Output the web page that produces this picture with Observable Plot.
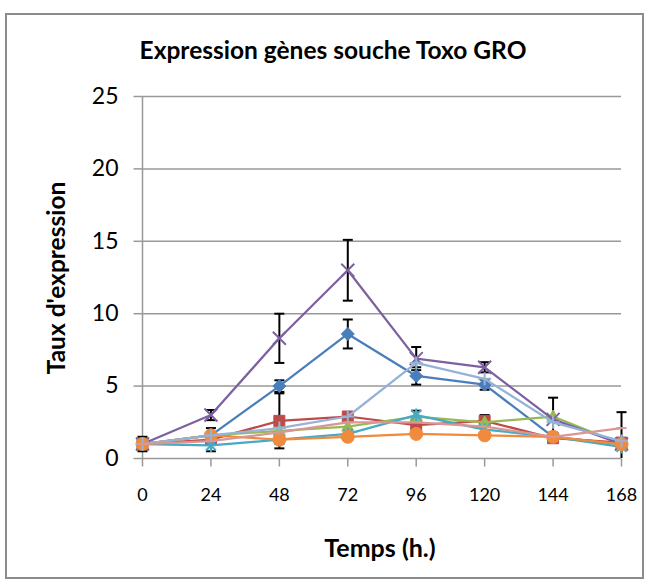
<!DOCTYPE html>
<html><head><meta charset="utf-8">
<script src="https://cdn.jsdelivr.net/npm/d3@7"></script>
<script src="https://cdn.jsdelivr.net/npm/@observablehq/plot@0.6"></script>
<style>
body{margin:0;background:#fff;font-family:Lato,sans-serif}
#wrap{position:relative;width:648px;height:585px;overflow:hidden;background:#fff}
#frame{position:absolute;left:5px;top:13px;width:639px;height:566px;border:2px solid #8c8c8c;box-sizing:border-box;pointer-events:none}
#chart{position:absolute;left:0;top:0}
.lbl{position:absolute;font-weight:bold;white-space:nowrap;color:#000}
#title{left:0;width:666px;top:35px;text-align:center;font-size:24.5px}
#ylab{left:55px;top:278px;font-size:24.5px;transform:translate(-50%,-50%) rotate(-90deg)}
#xlab{left:380px;top:547px;font-size:25px;transform:translate(-50%,-50%)}
</style></head>
<body>
<div id="wrap">
  <div id="chart"></div>
  <div id="frame"></div>
  <div id="title" class="lbl">Expression gènes souche Toxo GRO</div>
  <div id="ylab" class="lbl">Taux d'expression</div>
  <div id="xlab" class="lbl">Temps (h.)</div>
</div>
<script>
const hours = [0, 24, 48, 72, 96, 120, 144, 168];
const yTicks = [0, 5, 10, 15, 20, 25];
const seriesNames = ["Série 1", "Série 2", "Série 3", "Série 4", "Série 5", "Série 6", "Série 7", "Série 8"];

const s1 = [1.0, 1.6, 5.0, 8.6, 5.7, 5.1, 1.5, 1.0];
const s2 = [1.0, 1.3, 2.6, 2.9, 2.3, 2.6, 1.4, 1.1];
const s3 = [1.0, 1.6, 1.9, 2.2, 2.9, 2.5, 2.9, 1.0];
const s4 = [1.0, 3.0, 8.3, 13.0, 6.9, 6.3, 2.7, 1.0];
const s5 = [1.0, 0.9, 1.3, 1.7, 3.0, 2.0, 1.5, 0.8];
const s6 = [1.0, 1.6, 1.3, 1.5, 1.7, 1.6, 1.5, 1.0];
const s7 = [1.0, 1.6, 2.1, 2.9, 6.6, 5.5, 2.5, 1.2];
const s8 = [1.0, 1.2, 1.8, 2.5, 2.5, 2.2, 1.5, 2.1];

const e1 = [0.5, 0, 0.4, 1.0, 0.6, 0.35, 0, 0];
const e2 = [0, 0.8, 1.9, 0, 0, 0.4, 0, 0];
const e3 = [0, 0, 0, 0, 0, 0, 0, 0];
const e4 = [0, 0.35, 1.7, 2.1, 0.8, 0.35, 1.5, 0];
const e5 = [0, 0, 0, 0, 0.3, 0, 0, 0];
const e6 = [0, 0, 0, 0, 0, 0, 0, 0];
const e7 = [0, 0, 0, 0, 0, 0, 0, 2.0];
const e8 = [0, 0, 0, 0, 0, 0, 0, 0];

const values = [s1, s2, s3, s4, s5, s6, s7, s8];
const errors = [e1, e2, e3, e4, e5, e6, e7, e8];
const colors = ["#4a7ebb", "#be4b48", "#98b954", "#7d60a0", "#46aac5", "#f08a3c", "#95b3d7", "#d99694"];

const sym = {
  diamond: {draw(c){c.moveTo(0,-6.5);c.lineTo(6.5,0);c.lineTo(0,6.5);c.lineTo(-6.5,0);c.closePath();}},
  square: {draw(c){c.rect(-5.5,-5.5,11,11);}},
  triangle: {draw(c){c.moveTo(0,-6.5);c.lineTo(6,4.5);c.lineTo(-6,4.5);c.closePath();}},
  times: {draw(c){c.moveTo(-6.5,-6.5);c.lineTo(6.5,6.5);c.moveTo(6.5,-6.5);c.lineTo(-6.5,6.5);}},
  star: {draw(c){c.moveTo(-5,-5);c.lineTo(5,5);c.moveTo(5,-5);c.lineTo(-5,5);c.moveTo(0,-6.5);c.lineTo(0,6.5);}},
  circle: {draw(c){c.moveTo(6.5,0);c.arc(0,0,6.5,0,2*Math.PI);}},
  plus: {draw(c){c.moveTo(-6.5,0);c.lineTo(6.5,0);c.moveTo(0,-6.5);c.lineTo(0,6.5);}},
  dash: {draw(c){c.moveTo(-5,0);c.lineTo(5,0);}}
};
const markers = [sym.diamond, sym.square, sym.triangle, sym.times, sym.star, sym.circle, sym.plus, sym.dash];
const filled = [true, true, true, false, false, true, false, false];
const capSym = {draw(c){c.moveTo(-5,0);c.lineTo(5,0);}};
const hTick = {draw(c){c.moveTo(-4.5,0);c.lineTo(4.5,0);}};
const vTick = {draw(c){c.moveTo(0,-4);c.lineTo(0,4);}};

const data = [];
seriesNames.forEach((s, i) => hours.forEach((t, j) => data.push({s, i, t, v: values[i][j], e: errors[i][j]})));
const errRows = data.filter(d => d.e > 0).map(d => ({...d, lo: Math.max(0, d.v - d.e), hi: d.v + d.e, showLo: d.v - d.e >= 0}));

const grid = "#999999";
const marks = [
  Plot.ruleY(yTicks, {y: d => d, stroke: grid, strokeWidth: 1.5}),
  Plot.ruleX([0], {x: d => d, stroke: grid, strokeWidth: 1.5}),
  Plot.dot(yTicks, {x: () => 0, y: d => d, dx: -4.5, symbol: hTick, stroke: grid, strokeWidth: 1.5}),
  Plot.dot(hours, {x: d => d, y: () => 0, dy: 4, symbol: vTick, stroke: grid, strokeWidth: 1.5}),
  Plot.axisY({ticks: yTicks, tickSize: 0, tickPadding: 24, fontSize: 23, label: null, tickFormat: d => d}),
  Plot.axisX({ticks: hours, tickSize: 0, tickPadding: 30, fontSize: 18, label: null, tickFormat: d => d}),
  Plot.ruleX(errRows, {x: "t", y1: "lo", y2: "hi", stroke: "black", strokeWidth: 2}),
  Plot.dot(errRows, {x: "t", y: "hi", symbol: capSym, stroke: "black", strokeWidth: 2}),
  Plot.dot(errRows.filter(d => d.showLo), {x: "t", y: "lo", symbol: capSym, stroke: "black", strokeWidth: 2})
];
seriesNames.forEach((name, i) => {
  const rows = data.filter(d => d.s === name);
  marks.push(Plot.line(rows, {x: "t", y: "v", stroke: colors[i], strokeWidth: 2.25}));
  marks.push(Plot.dot(rows, {x: "t", y: "v", symbol: markers[i],
    fill: filled[i] ? colors[i] : "none", stroke: colors[i], strokeWidth: filled[i] ? 1 : 2}));
});

const chart = Plot.plot({
  width: 648, height: 585,
  marginLeft: 142, marginRight: 27, marginTop: 96, marginBottom: 127,
  x: {domain: [0, 168]},
  y: {domain: [0, 25]},
  style: {fontFamily: "Lato, sans-serif", color: "#000", background: "transparent", overflow: "visible"},
  marks
});
document.getElementById("chart").appendChild(chart);
</script>
</body></html>
